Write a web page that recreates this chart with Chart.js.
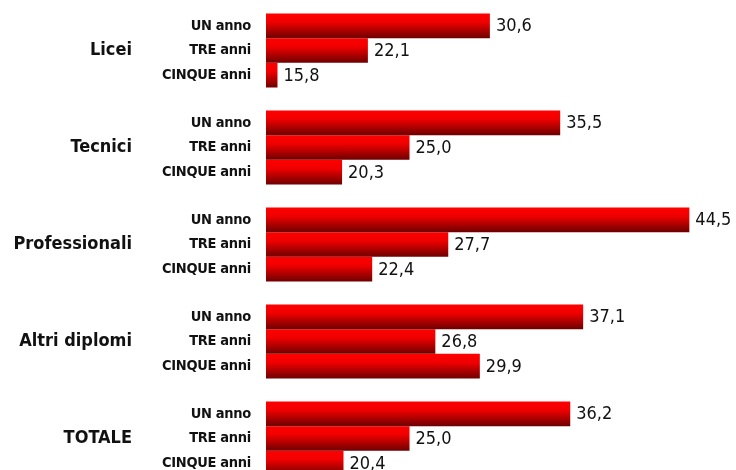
<!DOCTYPE html>
<html>
<head>
<meta charset="utf-8">
<script src="https://cdn.jsdelivr.net/npm/chart.js@4/dist/chart.umd.min.js"></script>
<style>
  html, body { margin: 0; padding: 0; background: #fff; overflow: hidden; }
  #wrap { width: 736px; height: 487px; position: relative; }
</style>
</head>
<body>
<div id="wrap"><canvas id="barChart"></canvas></div>
<script>
// dati
const groups = ['Licei', 'Tecnici', 'Professionali', 'Altri diplomi', 'TOTALE'];
const periods = ['UN anno', 'TRE anni', 'CINQUE anni'];
const unAnno = [30.6, 35.5, 44.5, 37.1, 36.2];
const treAnni = [22.1, 25.0, 27.7, 26.8, 25.0];
const cinqueAnni = [15.8, 20.3, 22.4, 29.9, 20.4];

const fmt = v => v.toFixed(1).replace('.', ',');

// gradient red fill per bar + labels
const barDeco = {
  id: 'barDeco',
  beforeDatasetsDraw(chart) {
    const ctx = chart.ctx;
    chart.data.datasets.forEach((ds, i) => {
      chart.getDatasetMeta(i).data.forEach(el => {
        const top = el.y - el.height / 2, bot = el.y + el.height / 2;
        const g = ctx.createLinearGradient(0, top, 0, bot);
        g.addColorStop(0, '#ff0000');
        g.addColorStop(0.35, '#f00000');
        g.addColorStop(1, '#6e0000');
        el.options.backgroundColor = g;
      });
    });
  },
  afterDatasetsDraw(chart) {
    const ctx = chart.ctx;
    const y = chart.scales.y;
    ctx.save();
    ctx.fillStyle = '#111';
    ctx.textBaseline = 'middle';
    chart.data.datasets.forEach((ds, i) => {
      chart.getDatasetMeta(i).data.forEach((el, j) => {
        // value at bar end
        ctx.letterSpacing = '0px';
        ctx.font = '18px "DejaVu Sans Condensed"';
        ctx.textAlign = 'left';
        ctx.fillText(fmt(ds.data[j]), el.x + 6, el.y + 1);
        // sub label
        ctx.letterSpacing = '-0.3px';
        ctx.font = 'bold 14.5px "DejaVu Sans Condensed"';
        ctx.textAlign = 'right';
        ctx.fillText(ds.label, 251, el.y);
      });
    });
    // group labels
    ctx.letterSpacing = '0px';
    ctx.font = 'bold 18px "DejaVu Sans Condensed"';
    ctx.textAlign = 'right';
    groups.forEach((g, j) => ctx.fillText(g, 132, y.getPixelForValue(j)));
    ctx.restore();
  }
};

new Chart(document.getElementById('barChart'), {
  type: 'bar',
  data: {
    labels: groups,
    datasets: [
      { label: periods[0], data: unAnno },
      { label: periods[1], data: treAnni },
      { label: periods[2], data: cinqueAnni }
    ].map(d => Object.assign(d, {
      backgroundColor: () => '#f00', borderWidth: 0,
      categoryPercentage: 0.765, barPercentage: 1
    }))
  },
  options: {
    indexAxis: 'y',
    responsive: true, maintainAspectRatio: false,
    animation: false,
    layout: { padding: { left: 266, right: 0, top: 2, bottom: 0 } },
    plugins: { legend: { display: false }, tooltip: { enabled: false } },
    scales: {
      x: { display: false, min: 15, max: 47.75 },
      y: { display: false }
    }
  },
  plugins: [barDeco]
});
</script>
</body>
</html>
